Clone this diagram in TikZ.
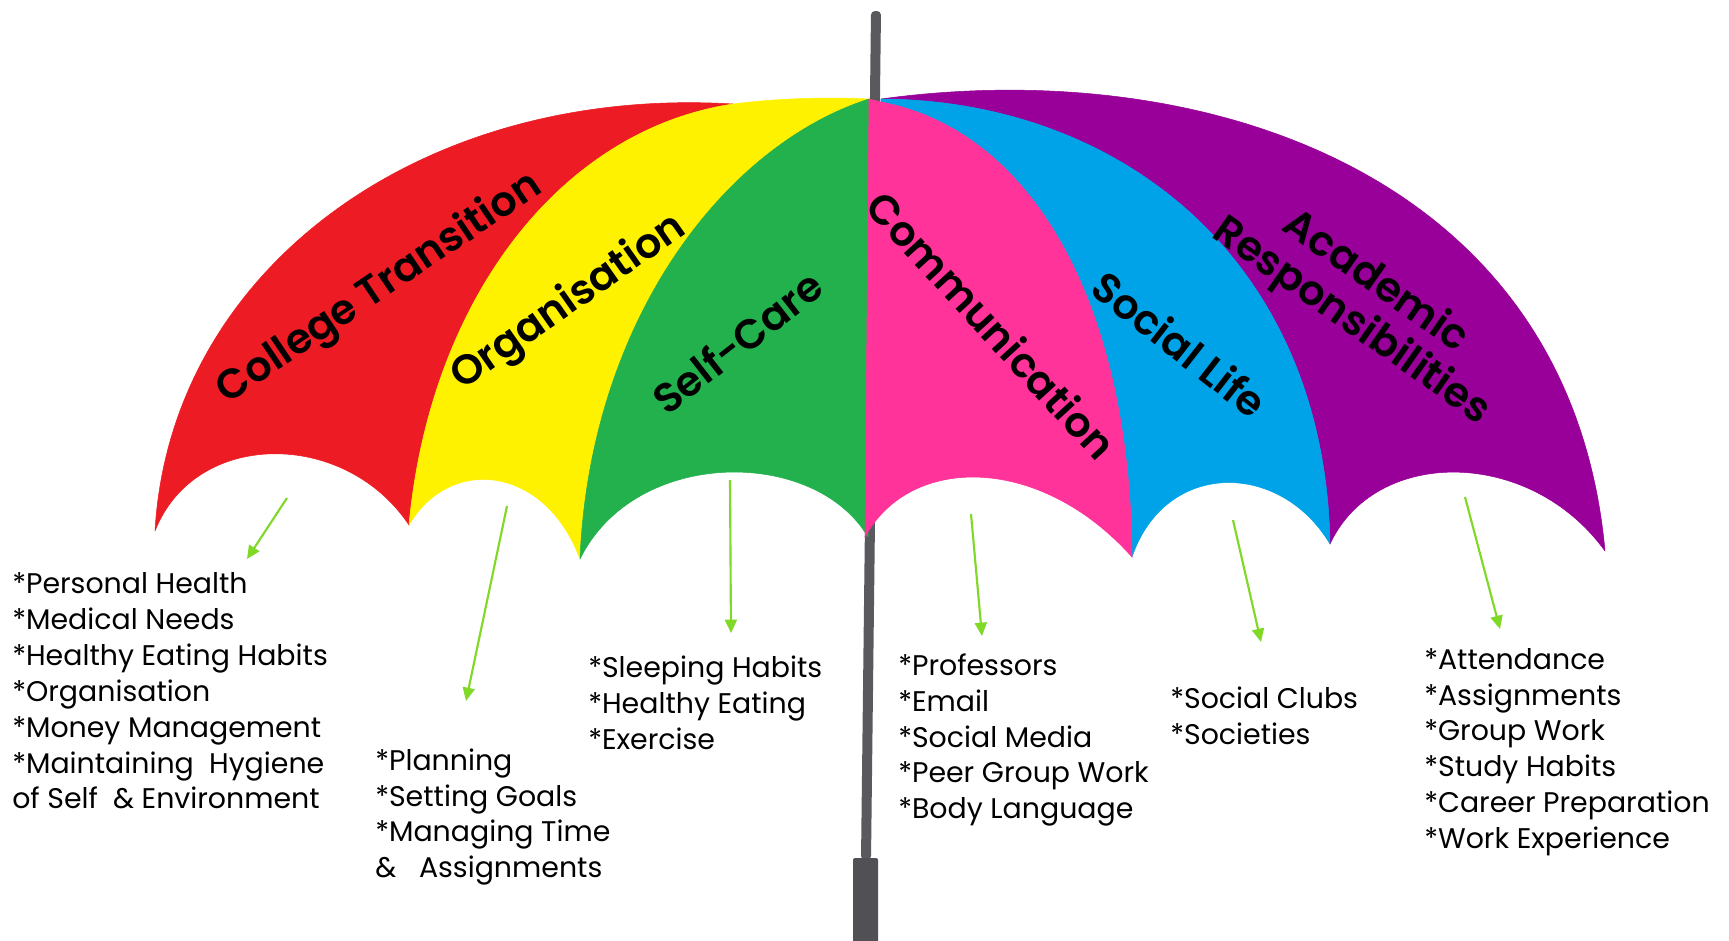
\documentclass[tikz,border=0pt]{standalone}
\usepackage{fontspec}
\setmainfont{Poppins}
\newfontfamily\titlefont{Poppins SemiBold}
\usetikzlibrary{arrows.meta}
\definecolor{cred}{HTML}{ED1C24}
\definecolor{cyellow}{HTML}{FFF200}
\definecolor{cgreen}{HTML}{22B14C}
\definecolor{cpink}{HTML}{FF3399}
\definecolor{cblue}{HTML}{00A2E8}
\definecolor{cpurple}{HTML}{990099}
\definecolor{cpole}{HTML}{5A5A5E}
\definecolor{carrow}{HTML}{7FD926}
\tikzset{
  panel/.style={draw=#1,fill=#1,line width=0.4pt,line join=round},
  title/.style={font=\fontsize{31}{36}\titlefont,inner sep=0pt,text=black},
  itemlist/.style={font=\fontsize{21.3}{26.9}\selectfont,align=left,anchor=west,inner sep=0pt,text=black},
  pointer/.style={draw=carrow,line width=1.6pt,-{Triangle[length=10pt,width=9pt]}}
}
\begin{document}
\begin{tikzpicture}[x=0.75pt,y=-0.75pt]
\useasboundingbox (0,0) rectangle (1729,940);
\fill[white] (0,0) rectangle (1729,940);
% pole
\fill[cpole,rounded corners=3pt] (871,11) -- (881,11) -- (871,860) -- (861,860) -- cycle;
\fill[cpole!90!black,rounded corners=1.5pt] (853,858) -- (878,858) -- (878,945) -- (853,945) -- cycle;
% canopy, left
\path[panel=cred] (155,531) .. controls (170,270) and (420,85) .. (733,104)
  .. controls (560,130) and (430,300) .. (409,525)
  .. controls (345,429) and (195,429) .. (155,531) -- cycle;
\path[panel=cyellow] (409,525) .. controls (430,300) and (560,130) .. (733,104)
  .. controls (780,98) and (830,97) .. (869,99)
  .. controls (725,145) and (590,320) .. (580,559)
  .. controls (545,465) and (450,455) .. (409,525) -- cycle;
\path[panel=cgreen] (580,559) .. controls (590,320) and (725,145) .. (869,99)
  -- (868,537)
  .. controls (815,447) and (635,447) .. (580,559) -- cycle;
% canopy, right
\path[panel=cpurple] (881,99) .. controls (1200,55) and (1570,170) .. (1605,551)
  .. controls (1530,447) and (1375,447) .. (1330,544)
  .. controls (1325,260) and (1120,100) .. (881,99) -- cycle;
\path[panel=cblue] (881,99) .. controls (1120,100) and (1325,260) .. (1330,544)
  .. controls (1280,460) and (1165,460) .. (1132,557)
  .. controls (1130,300) and (1030,130) .. (881,102) -- cycle;
\path[panel=cpink] (869,99) -- (881,102) .. controls (1030,130) and (1130,300) .. (1132,557)
  .. controls (1040,454) and (910,454) .. (865,537) -- cycle;
% titles
\node[title,rotate=34] (t1) at (380,289) {College Transition};
\node[title,rotate=35] (t2) at (569,303) {Organisation};
\node[title,rotate=38] (t3) at (737,342) {Self-Care};
\node[title,rotate=-47.5] (t4) at (992,325) {Communication};
\node[title,rotate=-38] (t5) at (1180,344) {Social Life};
\node[title,rotate=-35] (t6) at (1378,278) {Academic};
\node[title,rotate=-35] (t7) at (1351,322) {Responsibilities};
% lists
\node[itemlist] (l1) at (12,691) {*Personal Health\\*Medical Needs\\*Healthy Eating Habits\\*Organisation\\*Money Management\\*Maintaining\ \ Hygiene\\of Self\ \ \& Environment};
\node[itemlist] (l2) at (375,817) {*Planning\\*Setting Goals\\*Managing Time\\\&\ \ \ Assignments};
\node[itemlist] (l3) at (588,703) {*Sleeping Habits\\*Healthy Eating\\*Exercise};
\node[itemlist] (l4) at (898,740) {*Professors\\*Email\\*Social Media\\*Peer Group Work\\*Body Language};
\node[itemlist] (l5) at (1170,716) {*Social Clubs\\*Societies};
\node[itemlist] (l6) at (1424,752) {*Attendance\\*Assignments\\*Group Work\\*Study Habits\\*Career Preparation\\*Work Experience};
% pointers
\coordinate (a1) at (287,498); \coordinate (b1) at (247,559);
\coordinate (a2) at (507,506); \coordinate (b2) at (466,701);
\coordinate (a3) at (730,480); \coordinate (b3) at (731,633);
\coordinate (a4) at (971,514); \coordinate (b4) at (982,636);
\coordinate (a5) at (1233,520); \coordinate (b5) at (1261,642);
\coordinate (a6) at (1465,497); \coordinate (b6) at (1500,629);
\foreach \i in {1,...,6} \draw[pointer] (a\i) -- (b\i);
\end{tikzpicture}
\end{document}
